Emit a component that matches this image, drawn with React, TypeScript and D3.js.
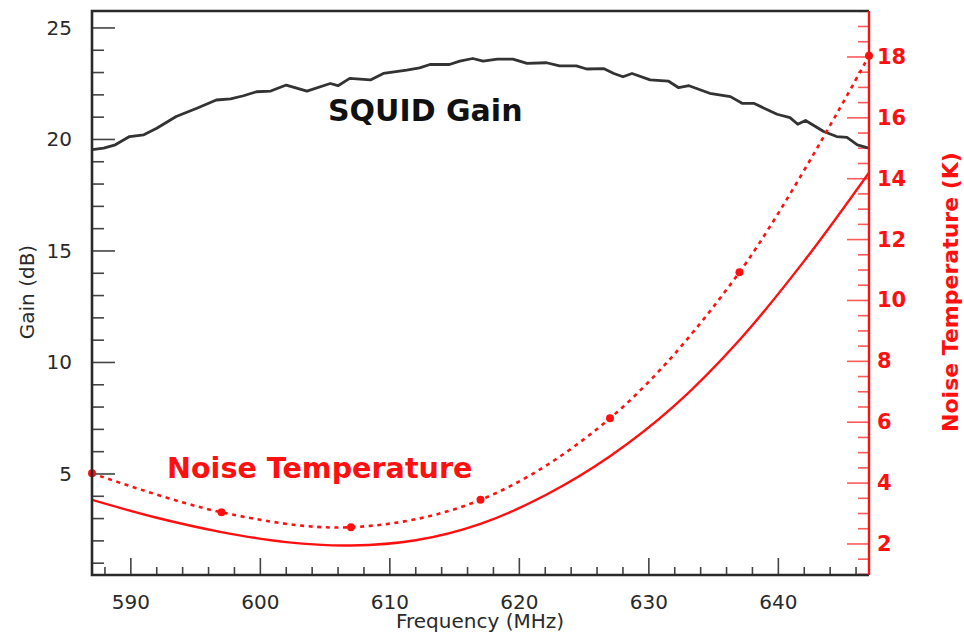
import React from "react";
import * as d3 from "d3";

// SQUID gain trace
const gainFreq = [
  587.0, 587.9, 588.8, 589.9, 591.0, 592.0, 593.5, 595.1, 596.6, 597.7, 598.7, 599.7, 600.8,
  602.0, 603.6, 605.4, 606.0, 606.9, 608.5, 609.5, 611.3, 612.3, 613.1, 614.6, 615.4, 616.4,
  617.2, 618.3, 619.5, 620.6, 622.1, 623.1, 624.4, 625.2, 626.5, 627.3, 628.0, 628.7, 630.1,
  631.5, 632.3, 633.1, 634.7, 636.3, 637.2, 638.1, 639.9, 640.9, 641.5, 642.1, 643.5, 644.5,
  645.3, 646.1, 647.0,
];
const gainDb = [
  19.54, 19.61, 19.76, 20.13, 20.21, 20.5, 21.03, 21.4, 21.77, 21.82, 21.96, 22.14, 22.17,
  22.44, 22.17, 22.51, 22.41, 22.74, 22.67, 22.96, 23.11, 23.21, 23.36, 23.36, 23.51, 23.63,
  23.51, 23.6, 23.6, 23.41, 23.44, 23.3, 23.3, 23.16, 23.18, 22.96, 22.81, 22.96, 22.67,
  22.62, 22.32, 22.41, 22.07, 21.92, 21.62, 21.62, 21.13, 20.98, 20.68, 20.85, 20.36, 20.13,
  20.09, 19.76, 19.61,
];

// noise temperature, smooth curve
const fitFreq = [587, 592, 597, 602, 607, 612, 617, 622, 627, 632, 637, 642, 647];
const fitNoise = [3.45, 2.86, 2.39, 2.06, 1.95, 2.12, 2.66, 3.6, 4.88, 6.55, 8.7, 11.3, 14.2];

// noise temperature, measured points (dashed)
const measFreq = [587, 597, 607, 617, 627, 637, 647];
const measNoise = [4.32, 3.04, 2.55, 3.45, 6.13, 10.93, 18.04];

const gainTicks = [5, 10, 15, 20, 25];
const freqTicks = [590, 600, 610, 620, 630, 640];
const tempTicks = [2, 4, 6, 8, 10, 12, 14, 16, 18];

const RED = "#ff1010";
const INK = "#2a2a2a";
const FONT = "DejaVu Sans";

export default function App() {
  const margin = { top: 11, right: 95, bottom: 59, left: 92 };
  const width = 964;
  const height = 634;
  const x0 = margin.left;
  const x1 = width - margin.right;
  const y0 = margin.top;
  const y1 = height - margin.bottom;

  const x = d3.scaleLinear().domain([587, 647]).range([x0, x1]);
  const yGain = d3.scaleLinear().domain([0.47, 25.76]).range([y1, y0]);
  const yTemp = d3.scaleLinear().domain([0.98, 19.51]).range([y1, y0]);

  const gainLine = d3
    .line<number>()
    .x((_, i) => x(gainFreq[i]))
    .y((d) => yGain(d));

  const fitLine = d3
    .line<number>()
    .x((_, i) => x(fitFreq[i]))
    .y((d) => yTemp(d))
    .curve(d3.curveCatmullRom.alpha(0.5));

  const measLine = d3
    .line<number>()
    .x((_, i) => x(measFreq[i]))
    .y((d) => yTemp(d))
    .curve(d3.curveCatmullRom.alpha(0.5));

  const gainMinor = d3.range(1, 26, 1).filter((v) => v % 5 !== 0);
  const freqMinor = d3.range(588, 647, 2).filter((v) => v % 10 !== 0);
  const tempMinor = d3.range(1, 19.6, 0.5).filter((v) => v % 2 !== 0);

  return (
    <svg
      width={width}
      height={height}
      style={{ position: "absolute", left: 0, top: 0, background: "#fff" }}
      fontFamily={FONT}
    >
      <defs>
        <clipPath id="plot">
          <rect x={x0} y={y0} width={x1 - x0} height={y1 - y0} />
        </clipPath>
      </defs>

      {/* left + bottom ticks */}
      <g stroke="#444" strokeWidth={1.6}>
        {gainTicks.map((t) => (
          <line key={"gM" + t} x1={x0} x2={x0 + 23} y1={yGain(t)} y2={yGain(t)} />
        ))}
        {gainMinor.map((t) => (
          <line key={"gm" + t} x1={x0} x2={x0 + 12} y1={yGain(t)} y2={yGain(t)} />
        ))}
        {freqTicks.map((t) => (
          <line key={"fM" + t} x1={x(t)} x2={x(t)} y1={y1} y2={y1 - 17} />
        ))}
        {freqMinor.map((t) => (
          <line key={"fm" + t} x1={x(t)} x2={x(t)} y1={y1} y2={y1 - 8} />
        ))}
      </g>

      {/* right axis ticks */}
      <g stroke="#ff5a5a" strokeWidth={1.6}>
        {tempTicks.map((t) => (
          <line key={"tM" + t} x1={x1} x2={x1 - 22} y1={yTemp(t)} y2={yTemp(t)} />
        ))}
        {tempMinor.map((t) => (
          <line key={"tm" + t} x1={x1} x2={x1 - 11} y1={yTemp(t)} y2={yTemp(t)} />
        ))}
      </g>

      {/* curves */}
      <g clipPath="url(#plot)" fill="none">
        <path d={gainLine(gainDb) ?? ""} stroke="#333" strokeWidth={2.8} strokeLinejoin="round" />
        <path d={fitLine(fitNoise) ?? ""} stroke={RED} strokeWidth={2.4} />
        <path
          d={measLine(measNoise) ?? ""}
          stroke={RED}
          strokeWidth={2.6}
          strokeDasharray="4 4.6"
        />
      </g>
      <g fill={RED}>
        {measNoise.map((d, i) => (
          <circle key={i} cx={x(measFreq[i])} cy={yTemp(d)} r={4} />
        ))}
      </g>

      {/* frame */}
      <path
        d={`M${x1},${y0} L${x0},${y0} L${x0},${y1} L${x1},${y1}`}
        fill="none"
        stroke={INK}
        strokeWidth={2.6}
      />
      <line x1={x1} x2={x1} y1={y0} y2={y1} stroke={RED} strokeWidth={2.4} />

      {/* tick labels */}
      <g fill={INK} fontSize={20}>
        {gainTicks.map((t) => (
          <text key={t} x={72} y={yGain(t)} textAnchor="end" dominantBaseline="central">
            {t}
          </text>
        ))}
        {freqTicks.map((t) => (
          <text key={t} x={x(t)} y={609} textAnchor="middle">
            {t}
          </text>
        ))}
      </g>
      <g fill={RED} fontSize={21} fontWeight="bold">
        {tempTicks.map((t) => (
          <text key={t} x={877} y={yTemp(t)} dominantBaseline="central">
            {t}
          </text>
        ))}
      </g>

      {/* axis titles */}
      <text x={480} y={628} textAnchor="middle" fontSize={20} fill={INK}>
        Frequency (MHz)
      </text>
      <text
        transform="translate(34,292) rotate(-90)"
        textAnchor="middle"
        fontSize={20}
        fill={INK}
      >
        Gain (dB)
      </text>
      <text
        transform="translate(958,292) rotate(-90)"
        textAnchor="middle"
        fontSize={22}
        fontWeight="bold"
        fill={RED}
      >
        Noise Temperature (K)
      </text>

      {/* annotations */}
      <text x={328} y={121} fontSize={30} fontWeight="bold" fill="#111">
        SQUID Gain
      </text>
      <text x={167} y={478} fontSize={28.6} fontWeight="bold" fill={RED}>
        Noise Temperature
      </text>
    </svg>
  );
}
